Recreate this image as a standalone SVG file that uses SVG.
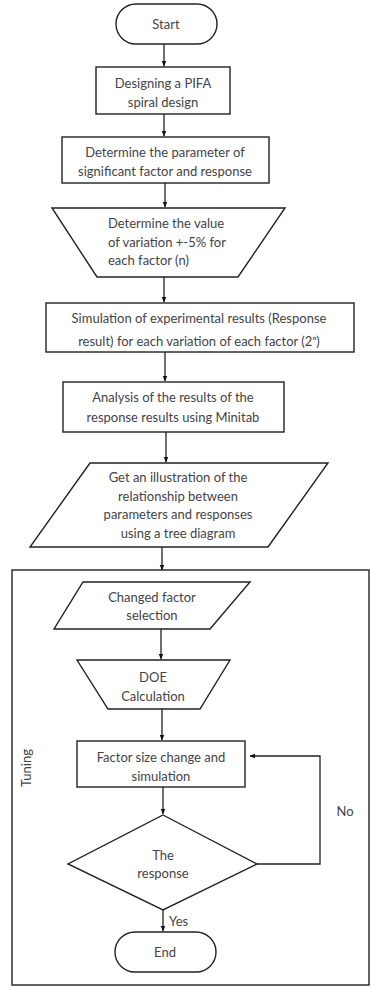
<svg xmlns="http://www.w3.org/2000/svg" width="371" height="987" viewBox="0 0 371 987">
<defs>
<style>
.s{fill:#fff;stroke:#222;stroke-width:1.4}
.c{fill:none;stroke:#222;stroke-width:1.3}
text{font-family:Lato,"Open Sans",sans-serif;font-size:13px;fill:#444;text-anchor:middle}
.l{text-anchor:start}
</style>
<marker id="a" viewBox="0 0 10 10" refX="9" refY="5" markerWidth="6" markerHeight="6" orient="auto-start-reverse" markerUnits="userSpaceOnUse"><path d="M0,1 L10,5 L0,9 z" fill="#111"/></marker>
</defs>
<rect width="371" height="987" fill="#fff"/>
<g id="tuning">
<rect x="12" y="570" width="357" height="415" fill="none" stroke="#222" stroke-width="1.4"/>
<text transform="translate(31,768) rotate(-90)">Tuning</text>
</g>
<g id="connectors">
<line class="c" x1="164" y1="44" x2="164" y2="66" marker-end="url(#a)"/>
<line class="c" x1="164" y1="114" x2="164" y2="136" marker-end="url(#a)"/>
<line class="c" x1="165" y1="183" x2="165" y2="207" marker-end="url(#a)"/>
<line class="c" x1="164" y1="277" x2="164" y2="302" marker-end="url(#a)"/>
<line class="c" x1="165" y1="352" x2="165" y2="381" marker-end="url(#a)"/>
<line class="c" x1="166" y1="432" x2="166" y2="462" marker-end="url(#a)"/>
<line class="c" x1="162" y1="547" x2="162" y2="570" marker-end="url(#a)"/>
<line class="c" x1="161" y1="629" x2="161" y2="659" marker-end="url(#a)"/>
<line class="c" x1="162" y1="709" x2="162" y2="740" marker-end="url(#a)"/>
<line class="c" x1="163" y1="787" x2="163" y2="814" marker-end="url(#a)"/>
<line class="c" x1="163" y1="910" x2="163" y2="931" marker-end="url(#a)"/>
<polyline class="c" points="257,864 320,864 320,756 250,756" marker-end="url(#a)"/>
<text x="345" y="816">No</text>
<text class="l" x="169" y="926">Yes</text>
</g>
<g id="start">
<rect class="s" x="116" y="4" width="101" height="40" rx="20"/>
<text x="166" y="29">Start</text>
</g>
<g id="design">
<rect class="s" x="96" y="67" width="134" height="47"/>
<text x="163" y="88">Designing a PIFA</text>
<text x="163" y="107">spiral design</text>
</g>
<g id="param">
<rect class="s" x="62" y="137" width="207" height="46"/>
<text x="165" y="157">Determine the parameter of</text>
<text x="165" y="176">significant factor and response</text>
</g>
<g id="variation">
<polygon class="s" points="52,208 285,208 238,277 97,277"/>
<text class="l" x="108" y="228">Determine the value</text>
<text class="l" x="108" y="247">of variation +-5% for</text>
<text class="l" x="108" y="265">each factor (n)</text>
</g>
<g id="simulation">
<rect class="s" x="46" y="303" width="308" height="49"/>
<text x="199" y="323">Simulation of experimental results (Response</text>
<text x="199" y="346">result) for each variation of each factor (2ⁿ)</text>
</g>
<g id="analysis">
<rect class="s" x="63" y="382" width="221" height="50"/>
<text x="173" y="402">Analysis of the results of the</text>
<text x="173" y="422">response results using Minitab</text>
</g>
<g id="illustration">
<polygon class="s" points="90,463 328,463 268,547 30,547"/>
<text x="178" y="482">Get an illustration of the</text>
<text x="178" y="501">relationship between</text>
<text x="178" y="519">parameters and responses</text>
<text x="178" y="538">using a tree diagram</text>
</g>
<g id="changed">
<polygon class="s" points="83,582 250,582 210,629 54,629"/>
<text x="152" y="602">Changed factor</text>
<text x="152" y="620">selection</text>
</g>
<g id="doe">
<polygon class="s" points="77,660 230,660 200,709 108,709"/>
<text x="153" y="682">DOE</text>
<text x="153" y="701">Calculation</text>
</g>
<g id="factor">
<rect class="s" x="77" y="741" width="168" height="46"/>
<text x="161" y="762">Factor size change and</text>
<text x="161" y="781">simulation</text>
</g>
<g id="decision">
<polygon class="s" points="163,815 257,864 163,910 68,864"/>
<text x="163" y="860">The</text>
<text x="163" y="878">response</text>
</g>
<g id="end">
<rect class="s" x="115" y="932" width="101" height="40" rx="20"/>
<text x="165" y="957">End</text>
</g>
</svg>
